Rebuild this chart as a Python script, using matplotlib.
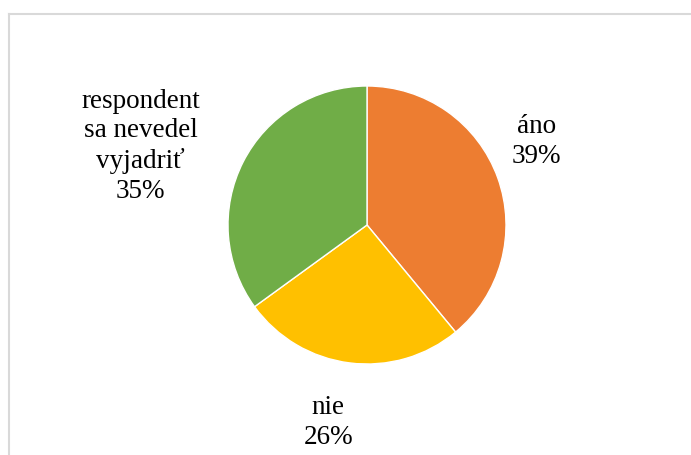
import matplotlib.pyplot as plt
from matplotlib.lines import Line2D

labels = ['áno', 'nie', 'respondent\nsa nevedel\nvyjadriť']
values = [39, 26, 35]
colors = ['#ED7D31', '#FFC000', '#70AD47']
# label centres in data units (pie radius = 1)
label_pos = [(1.22, 0.60), (-0.28, -1.42), (-1.63, 0.565)]

W, H = 691, 455
fig = plt.figure(figsize=(W / 100, H / 100), dpi=100)
plt.rcParams['font.family'] = ['Liberation Serif', 'DejaVu Serif']

# chart area frame (runs off the right and bottom edges)
fig.add_artist(Line2D([9 / W, 9 / W], [0, 1 - 13.5 / H], color='#d9d9d9', lw=1.5))
fig.add_artist(Line2D([9 / W, 1], [1 - 13.5 / H, 1 - 13.5 / H], color='#d9d9d9', lw=1.5))

cx, cy, r = 367, 225, 139
ax = fig.add_axes([(cx - r) / W, (H - cy - r) / H, 2 * r / W, 2 * r / H])
ax.pie(values, colors=colors, startangle=90, counterclock=False,
       wedgeprops=dict(edgecolor='white', linewidth=1))
ax.set_xlim(-1, 1)
ax.set_ylim(-1, 1)
ax.set_aspect('equal')

total = sum(values)
for lab, v, (x, y) in zip(labels, values, label_pos):
    ax.text(x, y, f'{lab}\n{round(100 * v / total)}%', ha='center', va='center',
            fontsize=19.5, color='#000000', linespacing=1.25, clip_on=False)

fig.savefig('out.png', dpi=100)
